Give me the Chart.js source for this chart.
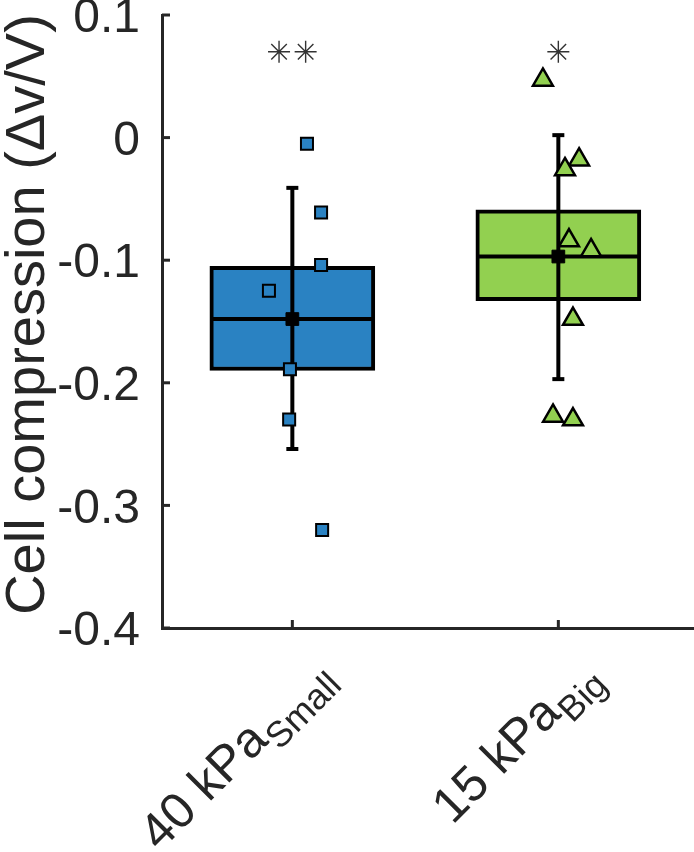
<!DOCTYPE html>
<html>
<head>
<meta charset="utf-8">
<script src="https://cdn.jsdelivr.net/npm/chart.js@4.4.1/dist/chart.umd.min.js"></script>
<style>
  html, body { margin: 0; padding: 0; background: #fff; }
  canvas { display: block; }
</style>
</head>
<body>
<canvas id="c" width="694" height="852"></canvas>
<script>
// groups
const categories = ['40 kPa', '15 kPa'];
const subscripts = ['Small', 'Big'];
const positions = [1, 2];
const boxColors = ['#2A82C2', '#92D050'];
const markers = ['rect', 'triangle'];
const yTitle = 'Cell compression (\u0394v/V)';

// box statistics
const q1 = [-0.190, -0.133];
const q3 = [-0.105, -0.059];
const medians = [-0.148, -0.097];
const means = [-0.148, -0.097];
const whiskerLow = [-0.254, -0.197];
const whiskerHigh = [-0.041, 0.002];

// individual cells
const smallX = [1.055, 1.108, 1.108, 0.912, 0.991, 0.988, 1.112];
const smallY = [-0.005, -0.061, -0.104, -0.125, -0.189, -0.230, -0.320];
const bigX = [1.942, 2.078, 2.025, 2.040, 2.123, 2.055, 1.980, 2.055];
const bigY = [0.047, -0.018, -0.026, -0.084, -0.092, -0.148, -0.227, -0.230];

// significance stars
const starX = [0.95, 1.05, 2.0];
const starY = [0.07, 0.07, 0.07];

const yTicks = [0.1, 0, -0.1, -0.2, -0.3, -0.4];

const FONT = '"Liberation Sans", Arial, Helvetica, sans-serif';
const INK = '#262626';

const pts = (xs, ys) => xs.map((x, i) => ({x: x, y: ys[i]}));

const datasets = [];

datasets.push({
  type: 'bar',
  data: positions.map((p, i) => ({x: p, y: [q1[i], q3[i]]})),
  backgroundColor: boxColors,
  borderColor: '#000',
  borderWidth: 4,
  borderSkipped: false,
  barThickness: 165,
  order: 6
});

positions.forEach((p, i) => {
  datasets.push({
    type: 'scatter',
    data: [{x: p, y: medians[i]}],
    pointStyle: 'line',
    pointRadius: 81,
    pointBorderWidth: 4,
    pointBorderColor: '#000',
    order: 5
  });
  datasets.push({
    type: 'line',
    data: [{x: p, y: whiskerLow[i]}, {x: p, y: whiskerHigh[i]}],
    borderColor: '#000',
    borderWidth: 4,
    pointStyle: 'line',
    pointRadius: 6,
    pointBorderWidth: 4,
    pointBorderColor: '#000',
    order: 4
  });
  datasets.push({
    type: 'scatter',
    data: [{x: p, y: means[i]}],
    pointStyle: 'rect',
    pointRadius: 9,
    pointBackgroundColor: '#000',
    pointBorderColor: '#000',
    pointBorderWidth: 1,
    order: 3
  });
});

datasets.push({
  type: 'scatter',
  data: pts(smallX, smallY),
  pointStyle: markers[0],
  pointRadius: 8.5,
  pointBackgroundColor: boxColors[0],
  pointBorderColor: '#000',
  pointBorderWidth: 2,
  order: 2
});
datasets.push({
  type: 'scatter',
  data: pts(bigX, bigY),
  pointStyle: markers[1],
  pointRadius: 11.5,
  pointBackgroundColor: boxColors[1],
  pointBorderColor: '#000',
  pointBorderWidth: 2.5,
  order: 1
});
datasets.push({
  type: 'scatter',
  data: pts(starX, starY),
  pointStyle: 'star',
  pointRadius: 11,
  pointBorderColor: '#333',
  pointBorderWidth: 1.4,
  order: 0
});

// inward tick marks, y title, subscripted category labels
const axisExtras = {
  id: 'axisExtras',
  afterDraw(chart) {
    const ctx = chart.ctx;
    const xs = chart.scales.x, ys = chart.scales.y;
    const area = chart.chartArea;
    ctx.save();
    ctx.strokeStyle = INK;
    ctx.lineWidth = 3;
    yTicks.forEach(v => {
      const py = ys.getPixelForValue(v);
      ctx.beginPath();
      ctx.moveTo(area.left, py);
      ctx.lineTo(area.left + 8, py);
      ctx.stroke();
    });
    positions.forEach(p => {
      const px = xs.getPixelForValue(p);
      ctx.beginPath();
      ctx.moveTo(px, area.bottom);
      ctx.lineTo(px, area.bottom - 8);
      ctx.stroke();
    });
    ctx.fillStyle = INK;

    ctx.save();
    ctx.translate(44, (area.top + area.bottom) / 2 - 7);
    ctx.rotate(-Math.PI / 2);
    ctx.textAlign = 'center';
    ctx.textBaseline = 'alphabetic';
    ctx.font = '56px ' + FONT;
    ctx.fillText(yTitle, 0, 0);
    ctx.restore();

    categories.forEach((name, i) => {
      const px = xs.getPixelForValue(positions[i]);
      ctx.save();
      ctx.translate(px + 51, area.bottom + 59);
      ctx.rotate(-Math.PI / 4);
      ctx.textAlign = 'right';
      ctx.textBaseline = 'alphabetic';
      ctx.font = '36px ' + FONT;
      ctx.fillText(subscripts[i], 0, 0);
      const sw = ctx.measureText(subscripts[i]).width;
      ctx.font = '50px ' + FONT;
      ctx.fillText(name, -sw - 1, -13);
      ctx.restore();
    });
    ctx.restore();
  }
};

new Chart(document.getElementById('c'), {
  data: {datasets: datasets},
  options: {
    responsive: false,
    animation: false,
    events: [],
    layout: {autoPadding: false, padding: {top: 15, right: 0, left: 0, bottom: 0}},
    plugins: {legend: {display: false}, tooltip: {enabled: false}},
    scales: {
      x: {
        type: 'linear',
        offset: false,
        min: 0.51,
        max: 2.51,
        ticks: {display: false},
        grid: {display: false, drawTicks: false, offset: false},
        border: {display: true, color: INK, width: 3},
        afterFit(scale) {
          scale.height = 224;
          scale.paddingLeft = scale.paddingRight = 0;
        }
      },
      y: {
        type: 'linear',
        min: -0.4,
        max: 0.1,
        afterBuildTicks(scale) { scale.ticks = yTicks.map(v => ({value: v})); },
        ticks: {
          color: INK,
          padding: 22,
          labelOffset: 4,
          font: {family: FONT, size: 48},
          callback: v => (Math.abs(v) < 1e-9 ? '0' : v.toFixed(1))
        },
        grid: {display: false, drawTicks: false},
        border: {display: true, color: INK, width: 3},
        afterFit(scale) {
          scale.width = 162;
          scale.paddingTop = scale.paddingBottom = 0;
        }
      }
    }
  },
  plugins: [axisExtras]
});
</script>
</body>
</html>
